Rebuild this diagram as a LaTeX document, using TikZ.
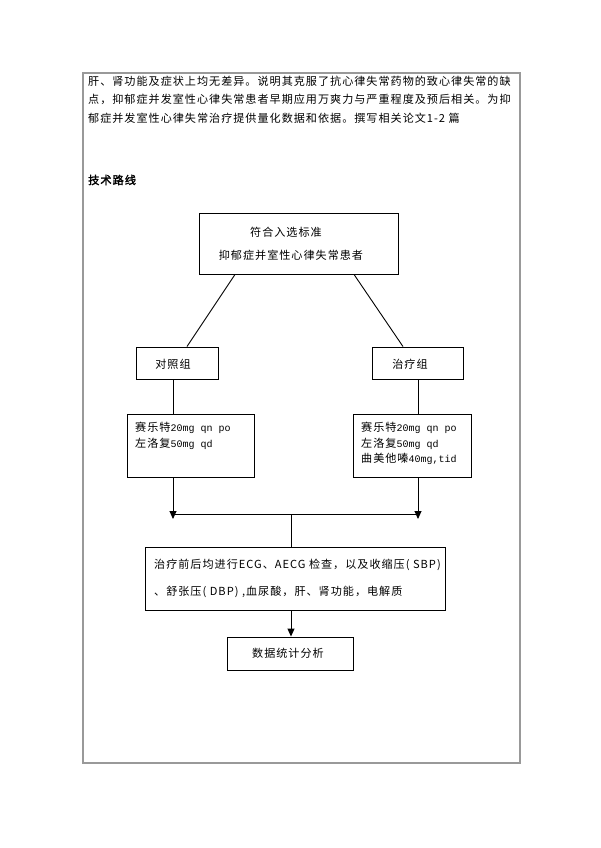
\documentclass[tikz,border=0pt]{standalone}
\usepackage{fontspec}
\setmainfont{Noto Sans CJK SC}[AutoFakeBold=2,LetterSpace=9]
\newfontfamily\monof{Liberation Mono}
\usetikzlibrary{arrows.meta}
\begin{document}
\begin{tikzpicture}[x=1pt,y=-1pt,
  box/.style={draw=black,line width=0.9pt,inner sep=0pt},
  txt/.style={inner sep=0pt,anchor=west,font=\fontsize{11.1}{14}\selectfont},
  ctxt/.style={inner sep=0pt,font=\fontsize{11.1}{14}\selectfont},
  conn/.style={line width=0.9pt},
  arr/.style={line width=0.9pt,-{Triangle[length=8pt,width=7pt]}}]
\useasboundingbox (0,0) rectangle (600,848);
% frame
\node[draw=gray!80,line width=1.6pt,minimum width=437pt,minimum height=690pt,inner sep=0pt] (frame) at (301.5,418) {};
% paragraph
\node[txt] (p1) at (88,81) {肝、肾功能及症状上均无差异。说明其克服了抗心律失常药物的致心律失常的缺};
\node[txt] (p2) at (88,99.5) {点，抑郁症并发室性心律失常患者早期应用万爽力与严重程度及预后相关。为抑};
\node[txt] (p3) at (88,118) {郁症并发室性心律失常治疗提供量化数据和依据。撰写相关论文1-2 篇};
\node[txt,font=\fontsize{11.2}{14}\selectfont\bfseries] (title) at (88,180) {技术路线};
% boxes
\node[box,minimum width=199pt,minimum height=61pt] (top) at (298.5,243.5) {};
\node[ctxt] (t1) at (286,232) {符合入选标准};
\node[ctxt] (t2) at (291,255) {抑郁症并室性心律失常患者};
\node[box,minimum width=82pt,minimum height=32pt] (lg) at (177,363) {};
\node[ctxt] at (173,364) {对照组};
\node[box,minimum width=91pt,minimum height=32pt] (rg) at (417.5,363) {};
\node[ctxt] at (410,364) {治疗组};
\node[box,minimum width=127pt,minimum height=63pt] (ld) at (190.5,445.5) {};
\node[txt] at (135,428) {赛乐特{\monof\fontsize{10}{12}\selectfont 20mg qn po}};
\node[txt] at (135,443.5) {左洛复{\monof\fontsize{10}{12}\selectfont 50mg qd}};
\node[box,minimum width=118pt,minimum height=63pt] (rd) at (412,445.5) {};
\node[txt] at (361,428) {赛乐特{\monof\fontsize{10}{12}\selectfont 20mg qn po}};
\node[txt] at (361,443.5) {左洛复{\monof\fontsize{10}{12}\selectfont 50mg qd}};
\node[txt] at (361,459) {曲美他嗪{\monof\fontsize{10}{12}\selectfont 40mg,tid}};
\node[box,minimum width=300pt,minimum height=63pt] (big) at (295,578.5) {};
\node[txt] at (154,565) {治疗前后均进行ECG、AECG 检查，以及收缩压( SBP)};
\node[txt] at (154,592) {、舒张压( DBP) ,血尿酸，肝、肾功能，电解质};
\node[box,minimum width=126pt,minimum height=33pt] (small) at (290,653.5) {};
\node[ctxt] at (288,653) {数据统计分析};
% coordinates for connector positions
\coordinate (a1) at (235,0);
\coordinate (a2) at (187,0);
\coordinate (b1) at (354,0);
\coordinate (b2) at (403,0);
\coordinate (xl) at (173,0);
\coordinate (xr) at (418,0);
\coordinate (xc) at (291,0);
\coordinate (jl) at (173,514);
\coordinate (jr) at (418,514);
\coordinate (jc) at (291,514);
\coordinate (el) at (173,519);
\coordinate (er) at (418,519);
% connectors
\draw[conn] (top.south -| a1) -- (lg.north -| a2);
\draw[conn] (top.south -| b1) -- (rg.north -| b2);
\draw[conn] (lg.south -| xl) -- (ld.north -| xl);
\draw[conn] (rg.south -| xr) -- (rd.north -| xr);
\draw[arr] (ld.south -| xl) -- (el);
\draw[arr] (rd.south -| xr) -- (er);
\draw[conn] (jl) -- (jr);
\draw[conn] (jc) -- (big.north -| xc);
\draw[arr] (big.south -| xc) -- (small.north -| xc);
\end{tikzpicture}
\end{document}
